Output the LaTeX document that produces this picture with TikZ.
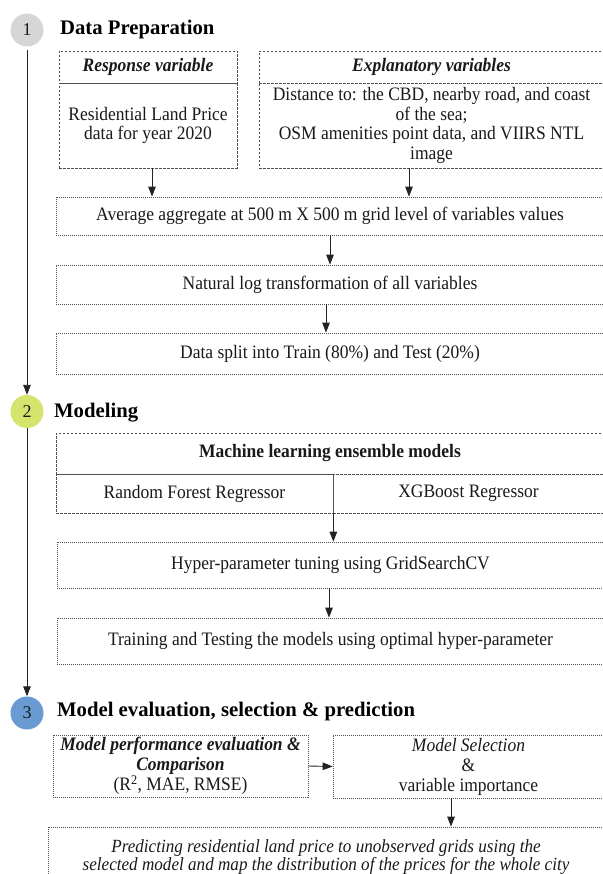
\documentclass[tikz,border=0pt]{standalone}
\usepackage{fontspec}
\setmainfont{Liberation Serif}[FakeStretch=0.92]
\newfontfamily\headfont{Liberation Serif}
\usetikzlibrary{arrows.meta,calc}

\definecolor{edgegray}{RGB}{80,80,80}
\definecolor{linegray}{RGB}{35,35,35}
\definecolor{inkgray}{RGB}{25,25,25}
\definecolor{stepgray}{RGB}{214,214,214}
\definecolor{steplime}{RGB}{212,228,108}
\definecolor{stepblue}{RGB}{106,154,210}

\tikzset{
  body/.style={font=\fontsize{19}{19.5}\selectfont, text=inkgray, align=center, inner sep=0pt},
  dashbox/.style={body, draw=edgegray, line width=0.7pt, dash pattern=on 2.5pt off 1.5pt},
  dotbox/.style={body, draw=edgegray, line width=0.7pt, dash pattern=on 1pt off 1pt},
  title/.style={font=\headfont\fontsize{20.7}{24}\selectfont\bfseries, text=black, anchor=base west, inner sep=0pt},
  stepdot/.style={circle, minimum size=33pt, inner sep=0pt, draw=none,
    font=\headfont\fontsize{18}{19.5}\selectfont, text=inkgray},
  arr/.style={draw=linegray, line width=0.9pt, -{Triangle[length=10pt,width=7.5pt]}},
}

\begin{document}
\begin{tikzpicture}[x=1pt,y=-1pt]
\useasboundingbox (0,0) rectangle (602,874);

% ---------- step markers and timeline ----------
\node[stepdot, fill=stepgray] (c1) at (27,30) {1};
\node[stepdot, fill=steplime] (c2) at (27,411.5) {2};
\node[stepdot, fill=stepblue] (c3) at (27,713) {3};
\draw[arr, shorten <=3pt] (c1.south) -- (c2.north);
\draw[arr] (c2.south) -- (c3.north);

% ---------- 1: data preparation ----------
\node[title] (t1) at (60,35) {Data Preparation};

\node[dashbox, minimum width=178pt, minimum height=32pt] (resphead) at (148,67)
  {\bfseries\itshape Response variable};
\node[dashbox, minimum width=178pt, minimum height=85pt] (respbody) at (148,125.5)
  {Residential Land Price\\data for year 2020};

\node[dashbox, minimum width=345pt, minimum height=32pt] (explhead) at (431.5,67)
  {\bfseries\itshape Explanatory variables};
\node[dashbox, minimum width=345pt, minimum height=85pt] (explbody) at (431.5,125.5)
  {Distance to: the CBD, nearby road, and coast\\of the sea;\\OSM amenities point data, and VIIRS NTL\\image};

\node[dotbox, minimum width=548pt, minimum height=38pt] (avg) at (330,216)
  {Average aggregate at 500 m X 500 m grid level of variables values};
\node[dotbox, minimum width=548pt, minimum height=39pt] (logt) at (330,284.5)
  {Natural log transformation of all variables};
\node[dotbox, minimum width=548pt, minimum height=41pt] (split) at (330,353.5)
  {Data split into Train (80\%) and Test (20\%)};

\draw[arr] ([xshift=4pt]respbody.south) -- ([xshift=4pt]respbody.south |- avg.north);
\draw[arr] ([xshift=-22.5pt]explbody.south) -- ([xshift=-22.5pt]explbody.south |- avg.north);
\draw[arr] (avg.south) -- (logt.north);
\draw[arr] ([xshift=-4pt]logt.south) -- ([xshift=-4pt]logt.south |- split.north);

% ---------- 2: modeling ----------
\node[title] (t2) at (54,417) {Modeling};

\node[dashbox, minimum width=548pt, minimum height=41pt] (mlhead) at (330,453.5)
  {\bfseries Machine learning ensemble models};
\node[dashbox, minimum width=277pt, minimum height=39pt] (rf) at (194.5,493.5)
  {Random Forest Regressor};
\node[dashbox, minimum width=271pt, minimum height=39pt] (xgb) at (468.5,493.5)
  {XGBoost Regressor};

\node[dotbox, minimum width=547pt, minimum height=46pt] (hyper) at (330.5,565)
  {Hyper-parameter tuning using GridSearchCV};
\node[dotbox, minimum width=547pt, minimum height=46pt] (train) at (330.5,641)
  {Training and Testing the models using optimal hyper-parameter};

\draw[arr] (rf.south east) -- (rf.south east |- hyper.north);
\draw[arr] ([xshift=-1.5pt]hyper.south) -- ([xshift=-1.5pt]hyper.south |- train.north);

% ---------- 3: evaluation, selection and prediction ----------
\node[title] (t3) at (57,716) {Model evaluation, selection \& prediction};

\node[dotbox, minimum width=255pt, minimum height=62pt, font=\fontsize{19}{20}\selectfont] (eval) at (180.5,766)
  {\bfseries\itshape Model performance evaluation \&\\\bfseries\itshape Comparison\\(R\textsuperscript{2}, MAE, RMSE)};
\node[dotbox, minimum width=271pt, minimum height=63pt, font=\fontsize{19}{20}\selectfont] (sel) at (468.5,766.5)
  {\itshape Model Selection\\\&\\variable importance};
\node[dotbox, minimum width=556pt, minimum height=60pt, font=\fontsize{18.6}{18.5}\selectfont\itshape] (pred) at (326,857)
  {Predicting residential land price to unobserved grids using the\\selected model and map the distribution of the prices for the whole city};

\draw[arr] (eval.east) -- (sel.west);
\draw[arr] ([xshift=-17.5pt]sel.south) -- ([xshift=-17.5pt]sel.south |- pred.north);

\end{tikzpicture}
\end{document}
